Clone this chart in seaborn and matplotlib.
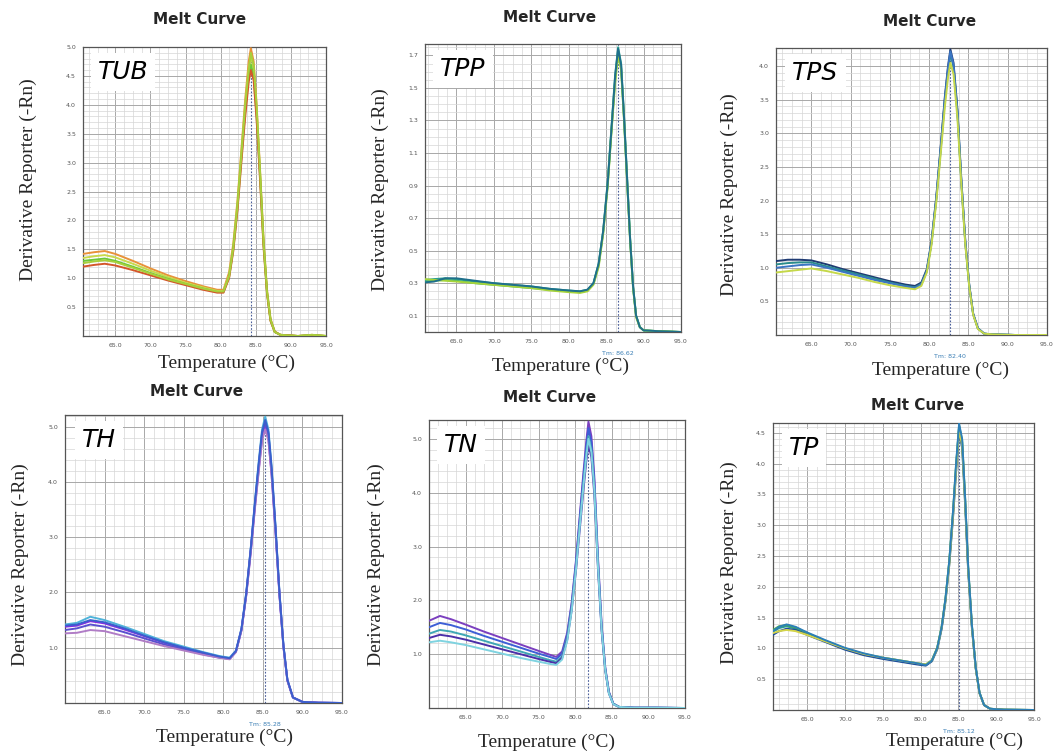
import matplotlib
matplotlib.use("Agg")
import pandas as pd
import matplotlib.pyplot as plt
import seaborn as sns
from matplotlib.ticker import MultipleLocator, FixedLocator

# ---- data ----
tub_temp = [60.4, 62, 63.5, 65, 67.5, 70, 72.5, 75, 77.5, 79.5, 80.4, 81.2, 81.8, 82.4, 83.0,
            83.5, 84.0, 84.3, 84.7, 85.1, 85.6, 86.1, 86.6, 87.1, 87.7, 88.5, 91, 93, 95]
tub_curves = [
    [1.42, 1.45, 1.47, 1.42, 1.30, 1.17, 1.05, 0.95, 0.86, 0.80, 0.80, 1.10, 1.60, 2.35, 3.30,
     4.10, 4.75, 4.98, 4.75, 4.05, 2.90, 1.70, 0.80, 0.30, 0.08, 0.02, 0.0, 0.02, 0.0],
    [1.35, 1.38, 1.40, 1.36, 1.25, 1.13, 1.02, 0.92, 0.84, 0.78, 0.78, 1.05, 1.55, 2.30, 3.25,
     4.00, 4.62, 4.85, 4.62, 3.95, 2.85, 1.65, 0.78, 0.28, 0.07, 0.02, 0.0, 0.02, 0.0],
    [1.30, 1.32, 1.34, 1.30, 1.20, 1.09, 0.99, 0.90, 0.82, 0.76, 0.76, 1.02, 1.50, 2.22, 3.15,
     3.90, 4.50, 4.70, 4.50, 3.85, 2.78, 1.60, 0.75, 0.27, 0.07, 0.02, 0.0, 0.015, 0.0],
    [1.20, 1.23, 1.25, 1.22, 1.14, 1.05, 0.96, 0.88, 0.80, 0.75, 0.75, 1.00, 1.47, 2.18, 3.08,
     3.80, 4.40, 4.60, 4.42, 3.78, 2.72, 1.55, 0.73, 0.26, 0.07, 0.02, 0.0, 0.01, 0.0],
    [1.26, 1.29, 1.31, 1.28, 1.18, 1.08, 0.98, 0.90, 0.82, 0.77, 0.77, 1.03, 1.52, 2.26, 3.20,
     3.98, 4.60, 4.90, 4.68, 4.00, 2.85, 1.62, 0.76, 0.28, 0.07, 0.02, 0.0, 0.02, 0.0],
]
tub_colors = ["#e8923a", "#c9d94c", "#6cc83a", "#d4562a", "#a8cf3c"]

tpp_temp = [60.8, 62, 63.5, 65, 67.5, 70, 72.5, 75, 77.5, 80, 81.5, 82.5, 83.3, 84.0, 84.6,
            85.2, 85.7, 86.2, 86.6, 87.0, 87.4, 87.8, 88.2, 88.6, 89.0, 89.5, 90.0, 92, 95]
tpp_curves = [
    [0.32, 0.325, 0.33, 0.325, 0.31, 0.30, 0.29, 0.28, 0.265, 0.255, 0.25, 0.26, 0.30, 0.42, 0.62,
     0.92, 1.25, 1.58, 1.75, 1.65, 1.32, 0.95, 0.58, 0.28, 0.10, 0.03, 0.01, 0.005, 0.0],
    [0.31, 0.315, 0.32, 0.315, 0.30, 0.29, 0.28, 0.27, 0.26, 0.25, 0.245, 0.255, 0.295, 0.41, 0.61,
     0.90, 1.23, 1.55, 1.72, 1.62, 1.30, 0.93, 0.57, 0.27, 0.10, 0.03, 0.01, 0.005, 0.0],
    [0.325, 0.32, 0.315, 0.31, 0.30, 0.29, 0.28, 0.27, 0.255, 0.245, 0.24, 0.25, 0.29, 0.40, 0.60,
     0.89, 1.22, 1.53, 1.70, 1.61, 1.29, 0.92, 0.56, 0.27, 0.09, 0.03, 0.01, 0.005, 0.0],
    [0.305, 0.31, 0.33, 0.33, 0.315, 0.30, 0.29, 0.28, 0.265, 0.255, 0.25, 0.26, 0.30, 0.42, 0.62,
     0.91, 1.24, 1.57, 1.74, 1.64, 1.31, 0.94, 0.57, 0.28, 0.10, 0.03, 0.01, 0.005, 0.0],
]
tpp_colors = ["#2a9d8f", "#3cb371", "#a6d43a", "#1f6f8b"]

tps_temp = [60.5, 62, 63.5, 65, 67, 69, 71, 73, 75, 77, 78.2, 79.0, 79.7, 80.3, 80.9,
            81.5, 82.0, 82.4, 82.7, 83.1, 83.6, 84.1, 84.6, 85.1, 85.6, 86.2, 87.0, 88, 91, 95]
tps_curves = [
    [1.10, 1.12, 1.12, 1.11, 1.05, 0.98, 0.92, 0.86, 0.80, 0.75, 0.73, 0.78, 0.98, 1.40, 2.05,
     2.85, 3.55, 4.00, 4.25, 4.05, 3.35, 2.30, 1.40, 0.75, 0.32, 0.10, 0.02, 0.01, 0.0, 0.0],
    [1.05, 1.07, 1.08, 1.08, 1.02, 0.96, 0.90, 0.84, 0.78, 0.73, 0.71, 0.76, 0.96, 1.37, 2.01,
     2.80, 3.49, 3.93, 4.18, 3.99, 3.30, 2.26, 1.37, 0.73, 0.31, 0.10, 0.02, 0.01, 0.0, 0.0],
    [1.00, 1.02, 1.04, 1.05, 1.00, 0.94, 0.88, 0.82, 0.77, 0.72, 0.70, 0.75, 0.95, 1.38, 2.03,
     2.83, 3.52, 3.97, 4.22, 4.02, 3.32, 2.28, 1.38, 0.74, 0.31, 0.10, 0.02, 0.01, 0.0, 0.0],
    [0.93, 0.95, 0.97, 0.99, 0.95, 0.90, 0.85, 0.79, 0.74, 0.70, 0.68, 0.73, 0.93, 1.34, 1.97,
     2.74, 3.40, 3.83, 4.05, 3.88, 3.22, 2.22, 1.34, 0.72, 0.30, 0.09, 0.02, 0.01, 0.0, 0.0],
]
tps_colors = ["#1f3b73", "#2a8c8c", "#3b75c4", "#c5d84a"]

th_temp = [60, 61.5, 63.2, 65, 67.5, 70, 72.5, 75, 77.5, 79.5, 80.8, 81.6, 82.3, 82.9, 83.5,
           84.0, 84.5, 84.9, 85.3, 85.7, 86.1, 86.6, 87.1, 87.6, 88.1, 88.8, 90, 92, 95]
th_curves = [
    [1.42, 1.45, 1.56, 1.50, 1.38, 1.25, 1.12, 1.02, 0.92, 0.85, 0.82, 0.95, 1.35, 2.00, 2.85,
     3.65, 4.40, 4.95, 5.18, 4.95, 4.30, 3.20, 2.00, 1.05, 0.42, 0.10, 0.02, 0.005, 0.0],
    [1.38, 1.40, 1.48, 1.44, 1.33, 1.21, 1.09, 0.99, 0.90, 0.83, 0.80, 0.93, 1.32, 1.95, 2.78,
     3.55, 4.25, 4.78, 4.98, 4.78, 4.15, 3.10, 1.95, 1.02, 0.41, 0.10, 0.02, 0.005, 0.0],
    [1.32, 1.35, 1.42, 1.38, 1.28, 1.17, 1.06, 0.97, 0.88, 0.82, 0.80, 0.93, 1.33, 1.97, 2.82,
     3.60, 4.33, 4.87, 5.08, 4.87, 4.22, 3.15, 1.98, 1.03, 0.41, 0.10, 0.02, 0.005, 0.0],
    [1.26, 1.27, 1.32, 1.30, 1.21, 1.12, 1.03, 0.95, 0.87, 0.82, 0.79, 0.92, 1.31, 1.94, 2.76,
     3.52, 4.22, 4.75, 4.95, 4.75, 4.12, 3.08, 1.94, 1.01, 0.40, 0.10, 0.02, 0.005, 0.0],
    [1.40, 1.42, 1.50, 1.46, 1.35, 1.22, 1.10, 1.00, 0.91, 0.84, 0.81, 0.94, 1.34, 1.98, 2.83,
     3.62, 4.36, 4.90, 5.12, 4.90, 4.25, 3.17, 1.98, 1.04, 0.42, 0.10, 0.02, 0.005, 0.0],
]
th_colors = ["#4fb3d9", "#8a2be2", "#5a4fcf", "#b07cc6", "#3a5fcd"]

tn_temp = [60, 61.5, 63, 65, 67.5, 70, 72.5, 75, 76.5, 77.4, 78.2, 78.9, 79.5, 80.1, 80.6,
           81.1, 81.5, 81.8, 82.2, 82.6, 83.1, 83.6, 84.1, 84.6, 85.2, 86.0, 88, 91, 95]
tn_curves = [
    [1.62, 1.71, 1.65, 1.55, 1.42, 1.30, 1.18, 1.06, 0.99, 0.95, 1.05, 1.40, 1.95, 2.75, 3.55,
     4.35, 4.95, 5.32, 5.05, 4.30, 2.80, 1.55, 0.75, 0.30, 0.08, 0.02, 0.005, 0.005, 0.0],
    [1.50, 1.58, 1.54, 1.46, 1.34, 1.23, 1.12, 1.01, 0.95, 0.91, 1.01, 1.36, 1.91, 2.70, 3.49,
     4.27, 4.85, 5.20, 4.94, 4.21, 2.74, 1.52, 0.73, 0.29, 0.08, 0.02, 0.005, 0.005, 0.0],
    [1.38, 1.45, 1.42, 1.35, 1.25, 1.15, 1.05, 0.95, 0.89, 0.86, 0.96, 1.31, 1.86, 2.63, 3.40,
     4.15, 4.72, 5.05, 4.80, 4.09, 2.66, 1.47, 0.71, 0.28, 0.08, 0.02, 0.005, 0.005, 0.0],
    [1.30, 1.36, 1.33, 1.27, 1.18, 1.09, 1.00, 0.91, 0.86, 0.83, 0.93, 1.27, 1.81, 2.56, 3.30,
     4.03, 4.58, 4.90, 4.66, 3.97, 2.59, 1.43, 0.69, 0.27, 0.07, 0.02, 0.005, 0.005, 0.0],
    [1.22, 1.25, 1.22, 1.17, 1.09, 1.01, 0.93, 0.86, 0.82, 0.80, 0.90, 1.25, 1.80, 2.58, 3.35,
     4.10, 4.66, 5.00, 4.75, 4.05, 2.63, 1.45, 0.70, 0.27, 0.07, 0.02, 0.005, 0.005, 0.0],
]
tn_colors = ["#7b3fbf", "#3d5fd6", "#3fa7b5", "#4b2fa8", "#7fd3e0"]

tp_temp = [60.5, 61.3, 62.3, 63.5, 65, 67.5, 70, 72.5, 75, 77.5, 79.5, 80.7, 81.5, 82.2, 82.8,
           83.3, 83.8, 84.3, 84.7, 85.1, 85.5, 85.9, 86.3, 86.8, 87.3, 87.8, 88.4, 89.2, 91, 95]
tp_curves = [
    [1.27, 1.33, 1.36, 1.32, 1.24, 1.11, 0.99, 0.90, 0.84, 0.79, 0.75, 0.73, 0.80, 1.00, 1.35,
     1.80, 2.40, 3.20, 3.95, 4.60, 4.35, 3.40, 2.30, 1.35, 0.68, 0.28, 0.08, 0.02, 0.005, 0.0],
    [1.30, 1.36, 1.38, 1.34, 1.25, 1.12, 1.00, 0.91, 0.85, 0.80, 0.76, 0.74, 0.81, 1.01, 1.36,
     1.81, 2.42, 3.22, 3.98, 4.62, 4.38, 3.42, 2.31, 1.36, 0.69, 0.28, 0.08, 0.02, 0.005, 0.0],
    [1.22, 1.28, 1.32, 1.30, 1.22, 1.10, 0.98, 0.89, 0.83, 0.78, 0.74, 0.72, 0.79, 0.98, 1.32,
     1.76, 2.35, 3.13, 3.86, 4.50, 4.26, 3.33, 2.25, 1.32, 0.67, 0.27, 0.08, 0.02, 0.005, 0.0],
    [1.25, 1.28, 1.30, 1.28, 1.22, 1.11, 1.00, 0.91, 0.85, 0.80, 0.76, 0.74, 0.80, 0.99, 1.34,
     1.78, 2.37, 3.16, 3.90, 4.55, 4.30, 3.36, 2.27, 1.34, 0.67, 0.27, 0.08, 0.02, 0.005, 0.0],
    [1.28, 1.35, 1.39, 1.35, 1.26, 1.13, 1.01, 0.92, 0.85, 0.80, 0.76, 0.73, 0.80, 1.00, 1.35,
     1.81, 2.42, 3.23, 4.00, 4.65, 4.40, 3.44, 2.33, 1.37, 0.69, 0.28, 0.08, 0.02, 0.005, 0.0],
]
tp_colors = ["#2a9d8f", "#4caf50", "#1f4e9c", "#d4d44a", "#2c7fb8"]

genes = ["TUB", "TPP", "TPS", "TH", "TN", "TP"]
tm_values = [84.3, 86.6, 82.6, 85.3, 81.7, 85.1]
tm_labels = [None, "Tm: 86.62", "Tm: 82.40", "Tm: 85.28", None, "Tm: 85.12"]
x_ticks = [65, 70, 75, 80, 85, 90, 95]

W, H = 1056, 752


def px(x, y):
    return x / W, 1 - y / H


def make_df(temp, curves):
    rows = []
    for i, c in enumerate(curves):
        for t, v in zip(temp, c):
            rows.append({"temp": t, "value": v, "rep": f"r{i}"})
    return pd.DataFrame(rows)


sns.set_style("white")

panels = [
    dict(temp=tub_temp, curves=tub_curves, colors=tub_colors, xlim=(60.4, 95), ylim=(0, 5.0),
         yticks=[0.5 * k for k in range(1, 11)], yminor=0.1,
         box=(83, 47, 326, 336), title=(200, 20), xlab=(227, 363), ylab=(28, 180)),
    dict(temp=tpp_temp, curves=tpp_curves, colors=tpp_colors, xlim=(60.8, 95), ylim=(0, 1.77),
         yticks=[0.1, 0.3, 0.5, 0.7, 0.9, 1.1, 1.3, 1.5, 1.7], yminor=0.05,
         box=(425, 44, 681, 332), title=(550, 17), xlab=(561, 366), ylab=(380, 190)),
    dict(temp=tps_temp, curves=tps_curves, colors=tps_colors, xlim=(60.5, 95), ylim=(0, 4.27),
         yticks=[0.5 * k for k in range(1, 9)], yminor=0.1,
         box=(776, 48, 1047, 335), title=(930, 22), xlab=(941, 370), ylab=(729, 195)),
    dict(temp=th_temp, curves=th_curves, colors=th_colors, xlim=(60, 95), ylim=(0, 5.21),
         yticks=[1.0, 2.0, 3.0, 4.0, 5.0], yminor=0.2,
         box=(65, 415, 342, 703), title=(197, 392), xlab=(225, 737), ylab=(20, 565)),
    dict(temp=tn_temp, curves=tn_curves, colors=tn_colors, xlim=(60, 95), ylim=(0, 5.35),
         yticks=[1.0, 2.0, 3.0, 4.0, 5.0], yminor=0.2,
         box=(429, 420, 685, 708), title=(550, 398), xlab=(547, 742), ylab=(376, 565)),
    dict(temp=tp_temp, curves=tp_curves, colors=tp_colors, xlim=(60.5, 95), ylim=(0, 4.66),
         yticks=[0.5 * k for k in range(1, 10)], yminor=0.1,
         box=(773, 423, 1034, 710), title=(918, 405), xlab=(955, 741), ylab=(729, 563)),
]

fig = plt.figure(figsize=(10.56, 7.52), dpi=100)

for gene, tm, tm_lab, p in zip(genes, tm_values, tm_labels, panels):
    x0, y0, x1, y1 = p["box"]
    ax = fig.add_axes([x0 / W, 1 - y1 / H, (x1 - x0) / W, (y1 - y0) / H])

    df = make_df(p["temp"], p["curves"])
    sns.lineplot(data=df, x="temp", y="value", hue="rep", palette=p["colors"],
                 estimator=None, legend=False, linewidth=1.4, ax=ax, zorder=3)

    ax.set_xlim(*p["xlim"])
    ax.set_ylim(*p["ylim"])
    ax.xaxis.set_major_locator(FixedLocator(x_ticks))
    ax.xaxis.set_minor_locator(MultipleLocator(1.25))
    ax.yaxis.set_major_locator(FixedLocator(p["yticks"]))
    ax.yaxis.set_minor_locator(MultipleLocator(p["yminor"]))
    ax.set_xticklabels([f"{t:.1f}" for t in x_ticks])
    ax.set_yticklabels([f"{t:.1f}" for t in p["yticks"]])
    ax.grid(which="major", color="#a8a8a8", linewidth=0.7)
    ax.grid(which="minor", color="#d6d6d6", linewidth=0.5)
    ax.set_axisbelow(True)
    ax.tick_params(which="major", labelsize=4.5, labelcolor="#555555", length=2,
                   width=0.5, color="#777777", pad=3)
    ax.tick_params(which="minor", length=0)
    for s in ax.spines.values():
        s.set_color("#555555")
        s.set_linewidth(0.9)
    ax.set_xlabel("")
    ax.set_ylabel("")

    ax.axvline(tm, color="#4a5f9a", linestyle=(0, (1.5, 1.5)), linewidth=0.8, zorder=2)
    if tm_lab:
        ax.text(tm, -0.065, tm_lab, transform=ax.get_xaxis_transform(), ha="center",
                va="top", fontsize=4.5, color="#3b7fb5")

    ax.text(0.06, 0.955, gene, transform=ax.transAxes, ha="left", va="top",
            fontsize=18, fontstyle="italic", family="DejaVu Sans", color="black",
            bbox=dict(facecolor="white", edgecolor="none", pad=5), zorder=5)

    tx, ty = px(*p["title"])
    fig.text(tx, ty, "Melt Curve", ha="center", va="center", fontsize=11,
             fontweight="bold", family="DejaVu Sans")
    lx, ly = px(*p["xlab"])
    fig.text(lx, ly, "Temperature (°C)", ha="center", va="center", fontsize=14,
             family="Liberation Serif")
    yx, yy = px(*p["ylab"])
    fig.text(yx, yy, "Derivative Reporter (-Rn)", ha="center", va="center", fontsize=14,
             rotation=90, family="Liberation Serif")

fig.savefig("out.png", dpi=100, facecolor="white")
